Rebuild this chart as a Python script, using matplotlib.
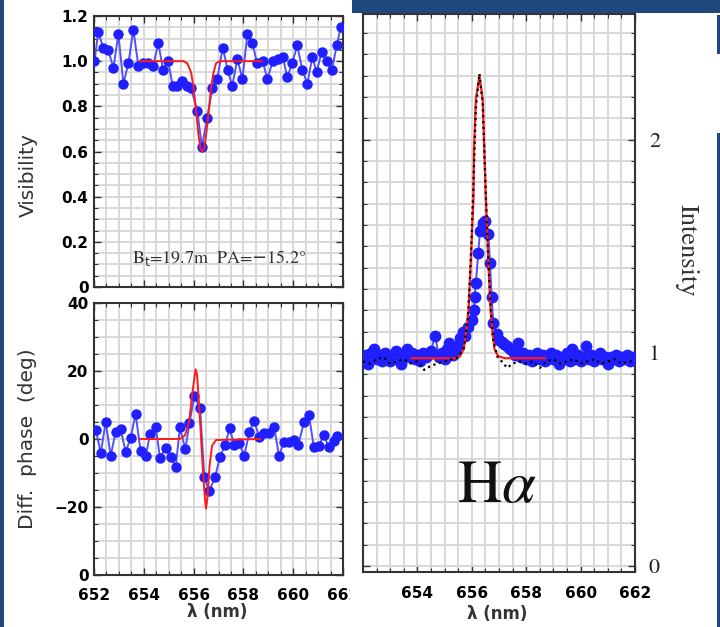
import matplotlib
matplotlib.use("Agg")
import matplotlib.pyplot as plt
from matplotlib.patches import Rectangle
from matplotlib.ticker import MultipleLocator, FixedLocator

# visibility data
vis_wl = [652.02, 652.17, 652.37, 652.57, 652.78, 652.98, 653.18, 653.38, 653.58, 653.78,
          653.98, 654.18, 654.38, 654.58, 654.78, 654.98, 655.16, 655.35, 655.55, 655.72,
          655.90, 656.15, 656.33, 656.55, 656.75, 656.95, 657.17, 657.37, 657.55, 657.76,
          657.96, 658.16, 658.36, 658.55, 658.78, 658.96, 659.18, 659.38, 659.58, 659.76,
          659.96, 660.16, 660.37, 660.57, 660.77, 660.94, 661.14, 661.35, 661.55, 661.75, 661.91]
vis = [1.00, 1.13, 1.06, 1.05, 0.97, 1.12, 0.90, 0.99, 1.14, 0.98,
       0.99, 0.99, 0.98, 1.08, 0.96, 1.00, 0.89, 0.89, 0.91, 0.89,
       0.88, 0.78, 0.62, 0.75, 0.88, 0.92, 1.06, 0.96, 0.89, 1.01,
       0.92, 1.12, 1.08, 0.99, 1.00, 0.92, 1.00, 1.01, 1.02, 0.93,
       0.99, 1.07, 0.96, 0.90, 1.02, 0.95, 1.04, 1.00, 0.96, 1.07, 1.15]
vis_mod_wl = [653.85, 655.6, 655.75, 655.9, 656.0, 656.1, 656.2, 656.28, 656.35,
              656.42, 656.5, 656.6, 656.7, 656.8, 656.9, 657.05, 658.75]
vis_mod = [1.0, 1.0, 0.99, 0.95, 0.88, 0.78, 0.67, 0.61, 0.60,
           0.61, 0.67, 0.77, 0.88, 0.95, 0.99, 1.0, 1.0]

# differential phase
ph_wl = [652.08, 652.27, 652.47, 652.67, 652.87, 653.07, 653.27, 653.47, 653.67, 653.87,
         654.08, 654.25, 654.48, 654.65, 654.88, 655.08, 655.28, 655.45, 655.67, 655.83,
         656.03, 656.26, 656.43, 656.63, 656.86, 657.06, 657.26, 657.45, 657.63, 657.83,
         658.03, 658.24, 658.43, 658.63, 658.83, 659.03, 659.24, 659.43, 659.63, 659.83,
         660.03, 660.20, 660.44, 660.63, 660.83, 661.03, 661.23, 661.43, 661.63, 661.77]
phase = [2.6, -4.2, 5.1, -5.0, 2.1, 2.8, -3.7, 0.2, 7.4, -3.4,
         -5.0, 1.5, 3.4, -5.5, -2.7, -5.4, -8.3, 3.4, -3.0, 4.6,
         12.6, 9.0, -11.1, -15.3, -11.2, -5.3, -1.8, 3.1, -1.8, -1.1,
         -5.0, 2.0, 5.4, 0.7, 1.9, 1.9, 3.4, -5.0, -0.8, -0.8,
         -0.3, -1.8, 5.1, 7.1, -2.4, -2.1, 1.2, -2.4, -0.5, 0.9]
ph_mod_wl = [653.85, 655.45, 655.65, 655.82, 655.94, 656.08, 656.14, 656.22, 656.30,
             656.38, 656.46, 656.50, 656.56, 656.64, 656.74, 656.90, 658.67]
ph_mod = [0, 0, 1, 5, 13, 20.5, 19, 10, 0, -10, -18, -20.5, -17, -8, -2, -0.3, 0]

# H-alpha spectrum
sp_wl = [652.00, 652.10, 652.20, 652.30, 652.40, 652.50, 652.60, 652.70, 652.80, 652.90,
         653.00, 653.10, 653.20, 653.30, 653.40, 653.50, 653.60, 653.70, 653.80, 653.90,
         654.00, 654.10, 654.20, 654.30, 654.40, 654.50, 654.65, 654.80, 654.90, 655.00,
         655.10, 655.17, 655.30, 655.40, 655.50, 655.57, 655.67, 655.75, 655.85, 656.00,
         656.08, 656.10, 656.15, 656.24, 656.30, 656.40, 656.49, 656.61, 656.67, 656.73,
         656.79, 656.92, 657.00, 657.10, 657.20, 657.30, 657.40, 657.50, 657.60, 657.71,
         657.80, 657.90, 658.00, 658.10, 658.20, 658.30, 658.40, 658.50, 658.60, 658.70,
         658.80, 658.90, 659.00, 659.10, 659.20, 659.30, 659.40, 659.50, 659.60, 659.70,
         659.80, 659.90, 660.00, 660.10, 660.20, 660.30, 660.40, 660.50, 660.60, 660.70,
         660.80, 660.90, 661.00, 661.10, 661.20, 661.30, 661.40, 661.50, 661.60, 661.70,
         661.80, 661.90, 662.00]
sp = [0.97, 0.99, 0.95, 1.00, 1.02, 0.97, 0.99, 0.96, 1.00, 0.98,
      0.96, 0.99, 1.01, 0.97, 0.95, 0.99, 1.02, 0.98, 1.00, 0.97,
      0.99, 0.96, 1.00, 0.98, 0.99, 1.01, 1.08, 0.98, 1.00, 0.97,
      1.02, 1.045, 0.99, 1.00, 1.03, 1.07, 1.10, 1.08, 1.12, 1.155,
      1.20, 1.26, 1.33, 1.47, 1.57, 1.61, 1.62, 1.56, 1.42, 1.26,
      1.14, 1.09, 1.06, 1.05, 1.04, 1.03, 1.02, 1.01, 0.99, 1.045,
      0.98, 1.00, 0.97, 0.99, 0.96, 0.98, 1.00, 0.97, 0.99, 0.96,
      0.98, 1.00, 0.97, 0.99, 0.95, 0.98, 0.97, 1.00, 0.96, 1.02,
      0.97, 0.99, 0.96, 0.98, 1.03, 0.97, 0.99, 0.96, 0.98, 1.00,
      0.97, 0.98, 0.95, 0.98, 0.97, 0.99, 0.96, 0.98, 0.97, 0.99,
      0.96, 0.98, 0.97]
ref_wl = [652.00, 652.25, 652.50, 652.75, 653.00, 653.25, 653.50, 653.75, 654.00, 654.25,
          654.50, 654.75, 655.00, 655.25, 655.50, 655.70, 655.85, 655.95, 656.05, 656.15,
          656.28, 656.40, 656.50, 656.60, 656.70, 656.80, 656.95, 657.10, 657.30, 657.50,
          657.75, 658.00, 658.25, 658.50, 658.75, 659.00, 659.25, 659.50, 659.75, 660.00,
          660.25, 660.50, 660.75, 661.00, 661.25, 661.50, 661.75, 662.00]
ref = [0.96, 0.95, 0.97, 0.98, 0.95, 0.96, 0.97, 0.95, 0.96, 0.92,
       0.94, 0.95, 0.96, 0.97, 0.98, 1.02, 1.15, 1.40, 1.75, 2.15,
       2.31, 2.17, 1.80, 1.45, 1.20, 1.05, 0.98, 0.96, 0.93, 0.95,
       0.96, 0.95, 0.96, 0.93, 0.96, 0.97, 0.95, 0.96, 0.97, 0.95,
       0.96, 0.97, 0.95, 0.96, 0.97, 0.95, 0.96, 0.96]
sp_mod_wl = [653.79, 655.38, 655.57, 655.71, 655.79, 655.88, 655.97, 656.06, 656.08, 656.15,
             656.28, 656.40, 656.46, 656.52, 656.60, 656.69, 656.76, 656.83, 656.96, 657.22, 658.69]
sp_mod = [0.975, 0.975, 0.985, 1.02, 1.1, 1.2, 1.45, 1.72, 1.95, 2.19,
          2.30, 2.19, 1.95, 1.72, 1.45, 1.2, 1.1, 1.02, 0.985, 0.975, 0.975]

BLUE = '#1f1fff'
LBLUE = '#5050ff'
RED = '#ff1a1a'
GRID = '#d6d6d6'
NAVY = '#1f497d'
TICKFONT = dict(family='DejaVu Sans', weight='bold', size=11)

W, H = 720, 627
fig = plt.figure(figsize=(W / 100, H / 100), dpi=100)

def box(l, t, r, b):
    return [l / W, 1 - b / H, (r - l) / W, (b - t) / H]

def style(ax, xmin, ymin, xmaj, ymaj):
    ax.xaxis.set_minor_locator(MultipleLocator(xmin))
    ax.yaxis.set_minor_locator(MultipleLocator(ymin))
    ax.xaxis.set_major_locator(MultipleLocator(xmaj))
    ax.yaxis.set_major_locator(MultipleLocator(ymaj))
    ax.grid(which='both', color=GRID, lw=1.3)
    ax.set_axisbelow(True)
    ax.tick_params(which='both', direction='in', top=True, right=True, color='#333333')
    ax.tick_params(which='major', length=5, width=1)
    ax.tick_params(which='minor', length=3, width=0.8)
    for s in ax.spines.values():
        s.set_linewidth(1.5)
        s.set_color('#333333')

# top left: visibility
ax1 = fig.add_axes(box(94, 16, 343, 287))
style(ax1, 0.5, 0.05, 2, 0.2)
ax1.plot(vis_wl, vis, '-', color=LBLUE, lw=1.4, zorder=2)
ax1.plot(vis_wl, vis, 'o', color=BLUE, ms=6.5, zorder=3)
ax1.plot(vis_mod_wl, vis_mod, '-', color=RED, lw=1.4, zorder=4)
ax1.set_xlim(652, 662)
ax1.set_ylim(0, 1.2)
ax1.set_xticklabels([])
ax1.yaxis.set_major_locator(FixedLocator([0, 0.2, 0.4, 0.6, 0.8, 1.0, 1.2]))
ax1.set_yticklabels(['0', '0.2', '0.4', '0.6', '0.8', '1.0', '1.2'], **TICKFONT)
ax1.tick_params(axis='y', pad=4)
ax1.text(657.02, 0.128, r'B$_{\rm t}$=19.7m  PA=$-$15.2°', ha='center', va='center',
         fontsize=13, family='STIXGeneral', color='#333333')
fig.text(28 / W, 1 - 175 / H, 'Visibility', rotation=90, ha='center', va='center',
         fontsize=14.5, color='#333333')

# bottom left: differential phase
ax2 = fig.add_axes(box(94, 303, 343, 575))
style(ax2, 0.5, 5, 2, 20)
ax2.plot(ph_wl, phase, '-', color=LBLUE, lw=1.4, zorder=2)
ax2.plot(ph_wl, phase, 'o', color=BLUE, ms=6.5, zorder=3)
ax2.plot(ph_mod_wl, ph_mod, '-', color=RED, lw=1.4, zorder=4)
ax2.set_xlim(652, 662)
ax2.set_ylim(-40, 40)
ax2.xaxis.set_major_locator(FixedLocator([652, 654, 656, 658, 660, 662]))
ax2.set_xticklabels(['652', '654', '656', '658', '660', '662'], **TICKFONT)
ax2.yaxis.set_major_locator(FixedLocator([-40, -20, 0, 20, 40]))
ax2.set_yticklabels(['0', '\u221220', '0', '20', '40'], **TICKFONT)
ax2.tick_params(axis='x', pad=9)
ax2.tick_params(axis='y', pad=4)
fig.text(28 / W, 1 - 439 / H, 'Diff.  phase  (deg)', rotation=90, ha='center', va='center',
         fontsize=14.5, color='#333333')
fig.text(217 / W, 1 - 612 / H, '\u03bb (nm)', ha='center', va='center',
         fontsize=12, weight='bold', color='#333333')

# white backing for the right picture
fig.patches.append(Rectangle((350 / W, 0), 1 - 350 / W, 1, transform=fig.transFigure,
                             facecolor='white', edgecolor='none', zorder=1))

# right: H-alpha intensity
ax3 = fig.add_axes(box(363, 14, 635, 572))
ax3.set_zorder(2)
style(ax3, 0.5, 0.1, 2, 1)
ax3.plot(sp_wl, sp, '-', color=LBLUE, lw=1.4, zorder=2)
ax3.plot(sp_wl, sp, 'o', color=BLUE, ms=7.5, zorder=3)
ax3.plot(sp_mod_wl, sp_mod, '-', color=RED, lw=1.6, zorder=4)
ax3.plot(ref_wl, ref, ':', color='black', lw=1.6, zorder=5)
ax3.set_xlim(652, 662)
ax3.set_ylim(-0.028, 2.59)
ax3.xaxis.set_major_locator(FixedLocator([654, 656, 658, 660, 662]))
ax3.set_xticklabels(['654', '656', '658', '660', '662'], **TICKFONT)
ax3.tick_params(axis='x', pad=10)
ax3.yaxis.set_major_locator(FixedLocator([0, 1, 2]))
ax3.tick_params(axis='y', labelleft=False, labelright=True, pad=10)
ax3.set_yticklabels(['0', '1', '2'], family='STIXGeneral', size=16, color='#222222')
ax3.text(656.93, 0.366, r'H$\alpha$', ha='center', va='center', fontsize=44,
         family='STIXGeneral', math_fontfamily='stix', color='#111111')
fig.text(497 / W, 1 - 614 / H, '\u03bb (nm)', ha='center', va='center',
         fontsize=12, weight='bold', color='#333333')
fig.text(687 / W, 1 - 250 / H, 'Intensity', rotation=270, ha='center', va='center',
         fontsize=19, family='STIXGeneral', color='#333333')

# frame decorations
for (l, t, r, b) in [(0, 0, 4, 627), (352, 0, 720, 13), (717, 15, 720, 54), (717, 133, 720, 627)]:
    fig.patches.append(Rectangle((l / W, 1 - b / H), (r - l) / W, (b - t) / H,
                                 transform=fig.transFigure, facecolor=NAVY,
                                 edgecolor='none', zorder=10))

fig.savefig('out.png', dpi=100)
